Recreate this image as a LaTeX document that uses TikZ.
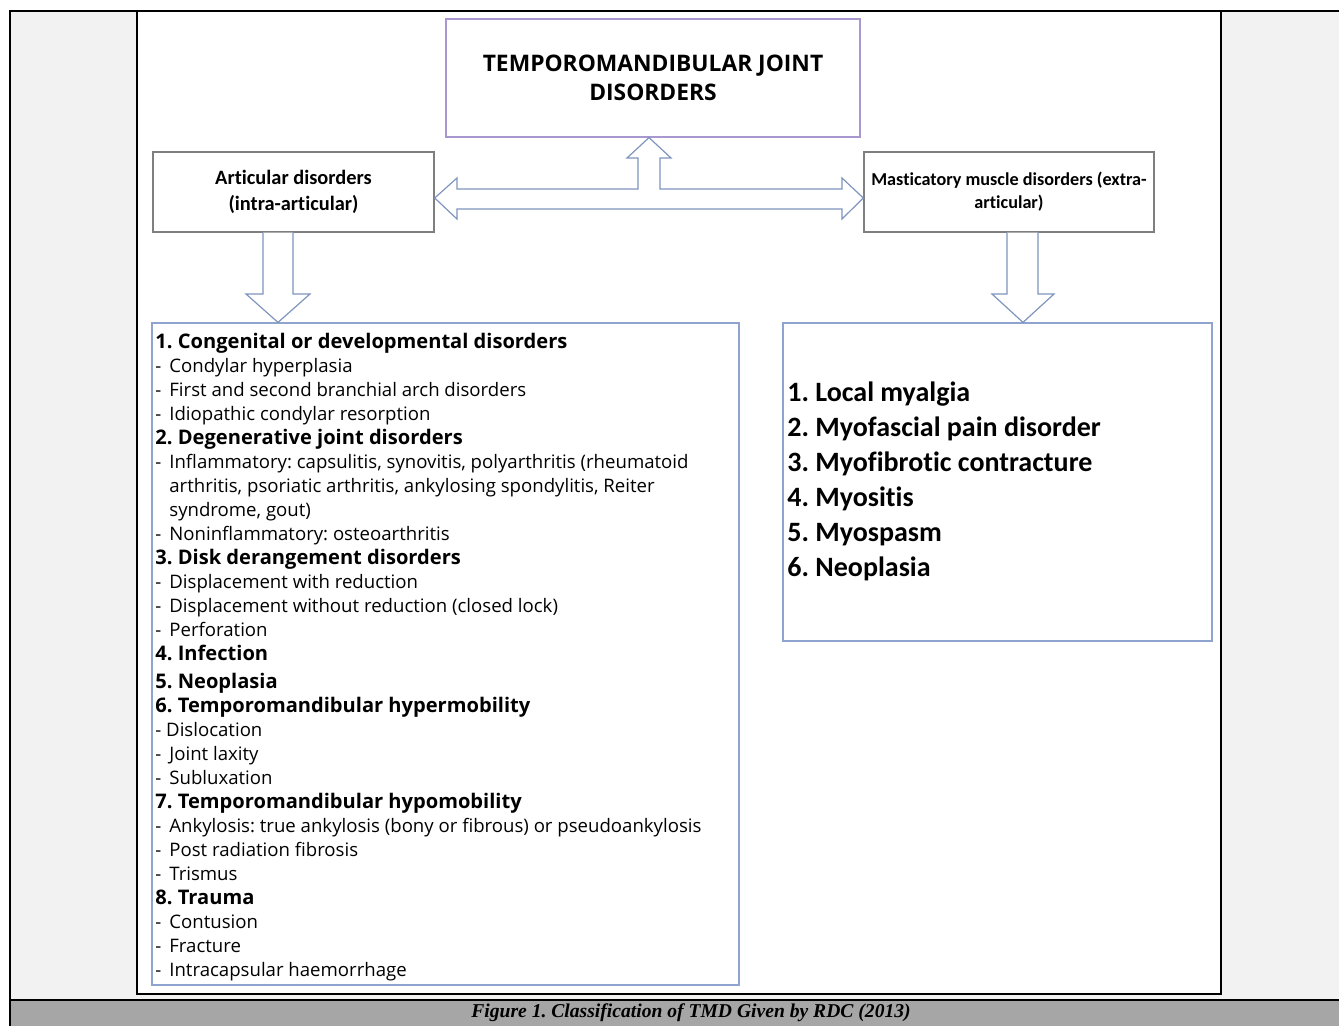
\documentclass[tikz,border=0pt]{standalone}
\usepackage{fontspec}
\setmainfont{Open Sans}
\newfontfamily\calib[Ligatures=NoCommon]{Carlito}
\newfontfamily\capfont{Liberation Serif}
\usetikzlibrary{positioning}
\definecolor{arrowblue}{HTML}{7F95BD}
\definecolor{listblue}{HTML}{8FA5CF}
\definecolor{titlepurple}{HTML}{A898CF}
\definecolor{boxgray}{HTML}{7F7F7F}
\definecolor{cellgray}{HTML}{F2F2F2}
\definecolor{capgray}{HTML}{A6A6A6}
\newcommand{\itm}{-\hspace{4pt}}
\newcommand{\hd}[1]{{\fontsize{10.05}{12}\selectfont\bfseries #1}}
\frenchspacing
\begin{document}
\frenchspacing
\begin{tikzpicture}[
 x=.5pt,y=-.5pt,
 titlebox/.style={draw=titlepurple,line width=.6pt,minimum width=207pt,minimum height=59pt,
  align=center,font=\fontsize{11.4}{14.5}\selectfont\bfseries},
 catbox/.style={draw=boxgray,line width=.7pt,minimum height=40pt,align=center,
  font=\calib\bfseries\fontsize{10.2}{13}\selectfont},
 listbox/.style={draw=listblue,line width=.6pt},
 barrow/.style={draw=arrowblue,line width=.6pt,fill=white,line join=miter},
 every node/.style={inner sep=0pt}]
 \useasboundingbox (0,0) rectangle (1339,1026);
 % table cells and rules
 \fill[cellgray] (10,11) rectangle (1339,1000);
 \fill[white] (137,11) rectangle (1221,994);
 \fill[capgray] (10,1000) rectangle (1339,1026);
 \draw[line width=1.1pt] (137,11) rectangle (1221,994);
 \draw[line width=1.1pt] (10,1026) -- (10,11) -- (1339,11);
 \draw[line width=1.4pt] (10,1000) -- (1339,1000);
 \node[font=\capfont\bfseries\itshape\fontsize{9.8}{11}\selectfont] (caption) at (691,1013)
  {Figure 1. Classification of TMD Given by RDC (2013)};
 % boxes
 \node[titlebox] (tmj) at (653,78) {TEMPOROMANDIBULAR JOINT\\DISORDERS};
 \node[catbox,minimum width=140.5pt] (artic) at (293.5,192) {Articular disorders\\(intra-articular)};
 \node[catbox,minimum width=145pt,font=\calib\bfseries\fontsize{9.1}{11.5}\selectfont] (muscle) at (1009,192)
  {Masticatory muscle disorders (extra-\\articular)};
 \node[listbox,minimum width=293.5pt,minimum height=331pt] (artlist) at (445.5,654) {};
 \node[listbox,minimum width=214.5pt,minimum height=159pt] (muslist) at (997.5,482) {};
 % list texts
 \node[anchor=north west,align=left,font=\fontsize{9.3}{12}\selectfont] (arttext) at (155,333) {%
  \hd{1. Congenital or developmental disorders}\\
  \itm Condylar hyperplasia\\
  \itm First and second branchial arch disorders\\
  \itm Idiopathic condylar resorption\\
  \hd{2. Degenerative joint disorders}\\
  \itm Inflammatory: capsulitis, synovitis, polyarthritis (rheumatoid\\
  \phantom{\itm}arthritis, psoriatic arthritis, ankylosing spondylitis, Reiter\\
  \phantom{\itm}syndrome, gout)\\
  \itm Noninflammatory: osteoarthritis\\
  \hd{3. Disk derangement disorders}\\
  \itm Displacement with reduction\\
  \itm Displacement without reduction (closed lock)\\
  \itm Perforation\\
  \hd{4. Infection}\\[2pt]
  \hd{5. Neoplasia}\\
  \hd{6. Temporomandibular hypermobility}\\
  - Dislocation\\
  \itm Joint laxity\\
  \itm Subluxation\\
  \hd{7. Temporomandibular hypomobility}\\
  \itm Ankylosis: true ankylosis (bony or fibrous) or pseudoankylosis\\
  \itm Post radiation fibrosis\\
  \itm Trismus\\
  \hd{8. Trauma}\\
  \itm Contusion\\
  \itm Fracture\\
  \itm Intracapsular haemorrhage};
 \node[anchor=north west,align=left,font=\calib\bfseries\fontsize{14}{17.5}\selectfont] (mustext) at (787,381) {%
  1. Local myalgia\\
  2. Myofascial pain disorder\\
  3. Myofibrotic contracture\\
  4. Myositis\\
  5. Myospasm\\
  6. Neoplasia};
 % block arrows
 \draw[barrow] (artic.east |- 0,198) -- (457,178) -- (457,189) -- (638,189) -- (638,158) -- (627,158)
  -- (649,0 |- tmj.south) -- (671,158) -- (660,158) -- (660,189) -- (842,189) -- (842,178)
  -- (muscle.west |- 0,198) -- (842,219) -- (842,209) -- (457,209) -- (457,219) -- cycle;
 \draw[barrow] (263,0 |- artic.south) -- (263,294) -- (246,294) -- (278,0 |- artlist.north)
  -- (310,294) -- (293,294) -- (293,0 |- artic.south);
 \draw[barrow] (1007,0 |- muscle.south) -- (1007,294) -- (992,294) -- (1023,0 |- muslist.north)
  -- (1054,294) -- (1038,294) -- (1038,0 |- muscle.south);
\end{tikzpicture}
\end{document}
